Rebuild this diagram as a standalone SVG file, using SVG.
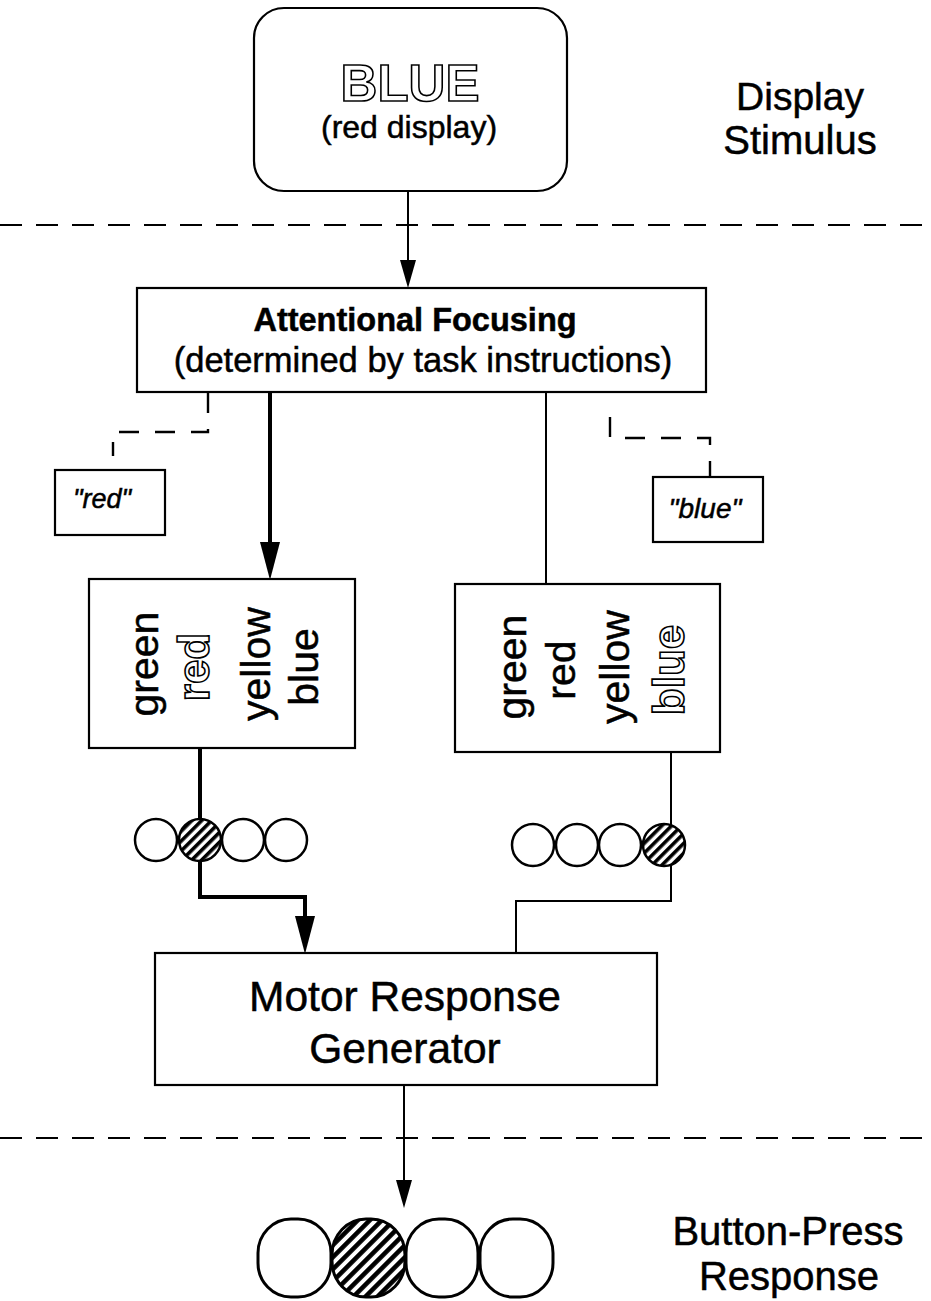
<svg xmlns="http://www.w3.org/2000/svg" width="931" height="1301" viewBox="0 0 931 1301">
  <style>
    .box { fill: #fff; stroke: #000; stroke-width: 2.2; }
    .ln { fill: none; stroke: #000; stroke-width: 2; }
    .thick { fill: none; stroke: #000; stroke-width: 4; }
    .dash { fill: none; stroke: #000; stroke-width: 2; stroke-dasharray: 22 14; }
    .sdash { fill: none; stroke: #000; stroke-width: 2.4; stroke-dasharray: 20 16; }
    .t { font-family: "Liberation Sans", Arial, sans-serif; fill: #000; stroke: #000; stroke-width: 0.5; }
    .outl { font-family: "Liberation Sans", Arial, sans-serif; font-weight: bold; fill: #fff; stroke: #000; stroke-width: 1.6; }
    .key { fill: #fff; stroke: #000; stroke-width: 2.5; }
    .keyOn { fill: url(#hatch); stroke: #000; stroke-width: 2.5; }
    .btn { fill: #fff; stroke: #000; stroke-width: 3; }
    .btnOn { fill: url(#hatchLg); stroke: #000; stroke-width: 3; }
  </style>
  <defs>
    <pattern id="hatch" patternUnits="userSpaceOnUse" width="7" height="7" patternTransform="rotate(45)">
      <rect width="7" height="7" fill="#fff"/>
      <rect width="3.6" height="7" fill="#000"/>
    </pattern>
    <pattern id="hatchLg" patternUnits="userSpaceOnUse" width="8.5" height="8.5" patternTransform="rotate(45)">
      <rect width="8.5" height="8.5" fill="#fff"/>
      <rect width="4.6" height="8.5" fill="#000"/>
    </pattern>
    <marker id="arrowSm" markerUnits="userSpaceOnUse" viewBox="0 0 28 16" markerWidth="28" markerHeight="16" refX="12" refY="8" orient="auto">
      <path d="M0,0 L28,8 L0,16 z" fill="#000"/>
    </marker>
    <marker id="arrowLg" markerUnits="userSpaceOnUse" viewBox="0 0 38 20" markerWidth="38" markerHeight="20" refX="18" refY="10" orient="auto">
      <path d="M0,0 L38,10 L0,20 z" fill="#000"/>
    </marker>
  </defs>

  <!-- stage separators -->
  <g id="separators">
    <line class="dash" x1="0" y1="225" x2="931" y2="225"/>
    <line class="dash" x1="0" y1="1138" x2="931" y2="1138"/>
  </g>

  <!-- connectors -->
  <g id="connectors">
    <line class="ln" x1="408" y1="192" x2="408" y2="272" marker-end="url(#arrowSm)"/>
    <line class="thick" x1="270" y1="393" x2="270" y2="560" marker-end="url(#arrowLg)"/>
    <line class="ln" x1="546" y1="393" x2="546" y2="584"/>
    <path class="sdash" d="M208,393 V432 H113 V456"/>
    <path class="sdash" d="M610,417 V438 H710 V477"/>
    <line class="thick" x1="200" y1="748" x2="200" y2="819"/>
    <path class="thick" d="M200,861 V897 H305 V934" marker-end="url(#arrowLg)"/>
    <line class="ln" x1="671" y1="752" x2="671" y2="825"/>
    <path class="ln" d="M671,865 V901 H516 V953"/>
    <line class="ln" x1="404" y1="1085" x2="404" y2="1192" marker-end="url(#arrowSm)"/>
  </g>

  <!-- display stimulus -->
  <g id="stimulus">
    <rect class="box" x="254" y="8" width="313" height="183" rx="30" ry="30" stroke-width="2.6"/>
    <text class="outl" x="410" y="101" font-size="51" text-anchor="middle">BLUE</text>
    <text class="t" x="409" y="138" font-size="32" text-anchor="middle">(red display)</text>
  </g>
  <g id="stage-display">
    <text class="t" x="800" y="110" font-size="39" text-anchor="middle">Display</text>
    <text class="t" x="800" y="154" font-size="40" text-anchor="middle">Stimulus</text>
  </g>

  <!-- attentional focusing -->
  <g id="attention">
    <rect class="box" x="137" y="288" width="569" height="104"/>
    <text class="t" x="415" y="331" font-size="32.5" font-weight="bold" text-anchor="middle">Attentional Focusing</text>
    <text class="t" x="423" y="372" font-size="34.5" text-anchor="middle">(determined by task instructions)</text>
  </g>

  <!-- task cue labels -->
  <g id="cue-red">
    <rect class="box" x="55" y="470" width="110" height="65"/>
    <text class="t" x="102" y="508" font-size="27" font-style="italic" text-anchor="middle">"red"</text>
  </g>
  <g id="cue-blue">
    <rect class="box" x="653" y="477" width="110" height="65"/>
    <text class="t" x="705" y="518" font-size="28" font-style="italic" text-anchor="middle">"blue"</text>
  </g>

  <!-- word lexicon, left pathway -->
  <g id="words-left">
    <rect class="box" x="89" y="579" width="266" height="169"/>
    <text class="t" font-size="41" text-anchor="middle" transform="translate(158,664) rotate(-90)">green</text>
    <text class="outl" font-size="44" text-anchor="middle" transform="translate(209,667) rotate(-90)">red</text>
    <text class="t" font-size="41" text-anchor="middle" transform="translate(270,664) rotate(-90)">yellow</text>
    <text class="t" font-size="41" text-anchor="middle" transform="translate(318,667) rotate(-90)">blue</text>
  </g>

  <!-- word lexicon, right pathway -->
  <g id="words-right">
    <rect class="box" x="455" y="584" width="265" height="168"/>
    <text class="t" font-size="41" text-anchor="middle" transform="translate(526,667) rotate(-90)">green</text>
    <text class="t" font-size="41" text-anchor="middle" transform="translate(575,670) rotate(-90)">red</text>
    <text class="t" font-size="41" text-anchor="middle" transform="translate(629,667) rotate(-90)">yellow</text>
    <text class="outl" font-size="44" text-anchor="middle" transform="translate(684,670) rotate(-90)">blue</text>
  </g>

  <!-- response units -->
  <g id="units-left">
    <circle class="key" cx="156" cy="840" r="21"/>
    <circle class="keyOn" cx="200" cy="840" r="21"/>
    <circle class="key" cx="243" cy="840" r="21"/>
    <circle class="key" cx="286" cy="840" r="21"/>
  </g>
  <g id="units-right">
    <circle class="key" cx="533" cy="845" r="21"/>
    <circle class="key" cx="577" cy="845" r="21"/>
    <circle class="key" cx="620" cy="845" r="21"/>
    <circle class="keyOn" cx="664" cy="845" r="21"/>
  </g>

  <!-- motor response generator -->
  <g id="motor">
    <rect class="box" x="155" y="953" width="502" height="132"/>
    <text class="t" x="405" y="1011" font-size="42.5" text-anchor="middle">Motor Response</text>
    <text class="t" x="405" y="1063" font-size="42.5" text-anchor="middle">Generator</text>
  </g>

  <!-- response buttons -->
  <g id="buttons">
    <rect class="btn" x="258" y="1219" width="73" height="78" rx="33" ry="34"/>
    <rect class="btnOn" x="332" y="1219" width="73" height="78" rx="34" ry="36"/>
    <rect class="btn" x="406" y="1219" width="72" height="78" rx="33" ry="34"/>
    <rect class="btn" x="480" y="1219" width="73" height="78" rx="33" ry="34"/>
  </g>
  <g id="stage-response">
    <text class="t" x="788" y="1245" font-size="40" text-anchor="middle">Button-Press</text>
    <text class="t" x="789" y="1290" font-size="40" text-anchor="middle">Response</text>
  </g>
</svg>
